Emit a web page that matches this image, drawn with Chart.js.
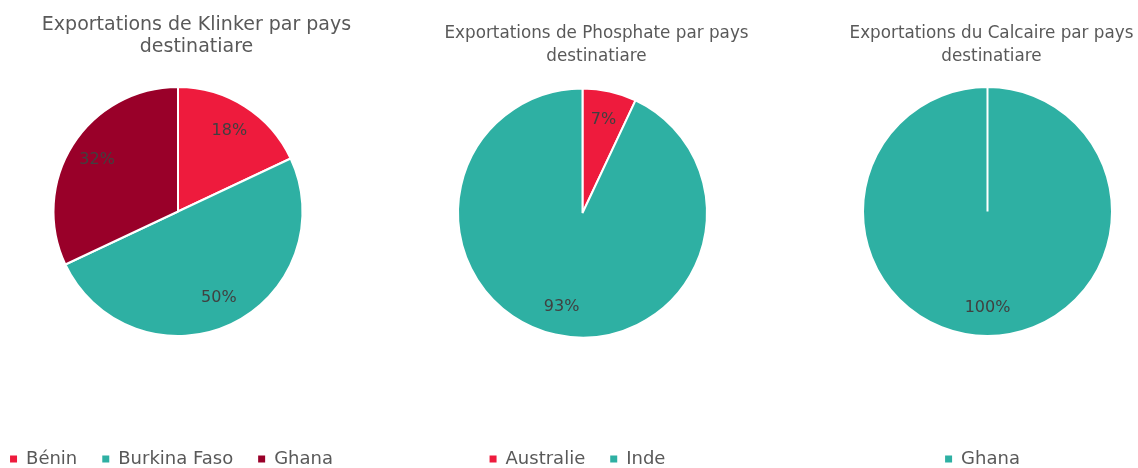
<!DOCTYPE html>
<html>
<head>
<meta charset="utf-8">
<script src="https://cdn.jsdelivr.net/npm/chart.js@4/dist/chart.umd.min.js"></script>
<style>
  html, body { margin: 0; padding: 0; background: #ffffff; }
  body { width: 1138px; height: 468px; position: relative; overflow: hidden; }
  canvas { position: absolute; top: 0; }
</style>
</head>
<body>
<canvas id="c1" width="400" height="468" style="left:-22px"></canvas>
<canvas id="c2" width="357" height="468" style="left:404px"></canvas>
<canvas id="c3" width="301" height="468" style="left:837px"></canvas>
<script>
// ---- data ----
const klinkerTitle = ['Exportations de Klinker par pays', 'destinatiare'];
const klinkerLabels = ['Bénin', 'Burkina Faso', 'Ghana'];
const klinkerValues = [18, 50, 32];
const klinkerColors = ['#EE1B3D', '#2EB0A3', '#990029'];

const phosphateTitle = ['Exportations de Phosphate par pays', 'destinatiare'];
const phosphateLabels = ['Australie', 'Inde'];
const phosphateValues = [7, 93];
const phosphateColors = ['#EE1B3D', '#2EB0A3'];

const calcaireTitle = ['Exportations du Calcaire par pays', 'destinatiare'];
const calcaireLabels = ['Ghana'];
const calcaireValues = [100];
const calcaireColors = ['#2EB0A3'];

const FONT = "'DejaVu Sans', sans-serif";

// shift title / legend horizontally (drawing only), after layout
const nudgePlugin = {
  id: 'nudge',
  afterLayout(chart, args, opts) {
    const t = chart.titleBlock;
    if (t && opts.titleDx) { t.left += opts.titleDx; t.right += opts.titleDx; }
    const l = chart.legend;
    if (l && opts.legendDx) { l.left += opts.legendDx; l.right += opts.legendDx; }
  }
};

// percentage labels inside slices
const sliceLabelPlugin = {
  id: 'sliceLabels',
  afterDatasetsDraw(chart, args, opts) {
    const ctx = chart.ctx;
    const ds = chart.data.datasets[0];
    const total = ds.data.reduce((a, b) => a + b, 0);
    const meta = chart.getDatasetMeta(0);
    ctx.save();
    ctx.font = opts.fontSize + 'px ' + FONT;
    ctx.fillStyle = opts.color;
    ctx.textAlign = 'center';
    ctx.textBaseline = 'middle';
    meta.data.forEach((arc, i) => {
      const p = arc.getProps(['x', 'y', 'startAngle', 'endAngle', 'outerRadius'], true);
      const mid = (p.startAngle + p.endAngle) / 2;
      const r = p.outerRadius * opts.radiusFactor;
      const pct = Math.round(ds.data[i] / total * 100) + '%';
      ctx.fillText(pct, p.x + Math.cos(mid) * r, p.y + Math.sin(mid) * r);
    });
    ctx.restore();
  }
};

function makePie(id, title, labels, values, colors, cfg) {
  new Chart(document.getElementById(id), {
    type: 'pie',
    data: {
      labels: labels,
      datasets: [{
        data: values,
        backgroundColor: colors,
        borderColor: '#ffffff',
        borderWidth: 2
      }]
    },
    options: {
      responsive: false,
      maintainAspectRatio: false,
      animation: false,
      radius: 124.5,
      layout: { padding: { top: 0, bottom: -10, left: 0, right: 0 } },
      plugins: {
        tooltip: { enabled: false },
        title: {
          display: true,
          text: title,
          color: '#595959',
          font: { family: FONT, size: cfg.titleSize, weight: 'normal', lineHeight: cfg.titleLH / cfg.titleSize },
          padding: { top: cfg.titlePadTop, bottom: 0 }
        },
        legend: {
          display: true,
          position: 'bottom',
          title: { display: true, text: '', font: { size: 10, lineHeight: 1.2 }, padding: { top: cfg.legendGap, bottom: 0 } },
          labels: {
            color: '#595959',
            font: { family: FONT, size: 18 },
            boxWidth: 7,
            boxHeight: 7,
            padding: 25,
            generateLabels: (chart) => chart.data.labels.map((txt, i) => ({
              text: txt,
              fillStyle: colors[i],
              strokeStyle: colors[i],
              lineWidth: 0,
              fontColor: '#595959',
              hidden: false,
              index: i
            }))
          }
        },
        nudge: { titleDx: cfg.titleDx, legendDx: cfg.legendDx },
        sliceLabels: { fontSize: 16, color: '#404040', radiusFactor: 0.77 }
      }
    },
    plugins: [nudgePlugin, sliceLabelPlugin]
  });
}

makePie('c1', klinkerTitle, klinkerLabels, klinkerValues, klinkerColors,
  { titleSize: 19, titleLH: 22, titlePadTop: 14, legendGap: 48, titleDx: 18.5, legendDx: -6.5 });
makePie('c2', phosphateTitle, phosphateLabels, phosphateValues, phosphateColors,
  { titleSize: 16.8, titleLH: 23, titlePadTop: 22.5, legendGap: 55.5, titleDx: 14, legendDx: -5 });
makePie('c3', calcaireTitle, calcaireLabels, calcaireValues, calcaireColors,
  { titleSize: 16.8, titleLH: 23, titlePadTop: 22.5, legendGap: 58.5, titleDx: 4, legendDx: -5 });
</script>
</body>
</html>
